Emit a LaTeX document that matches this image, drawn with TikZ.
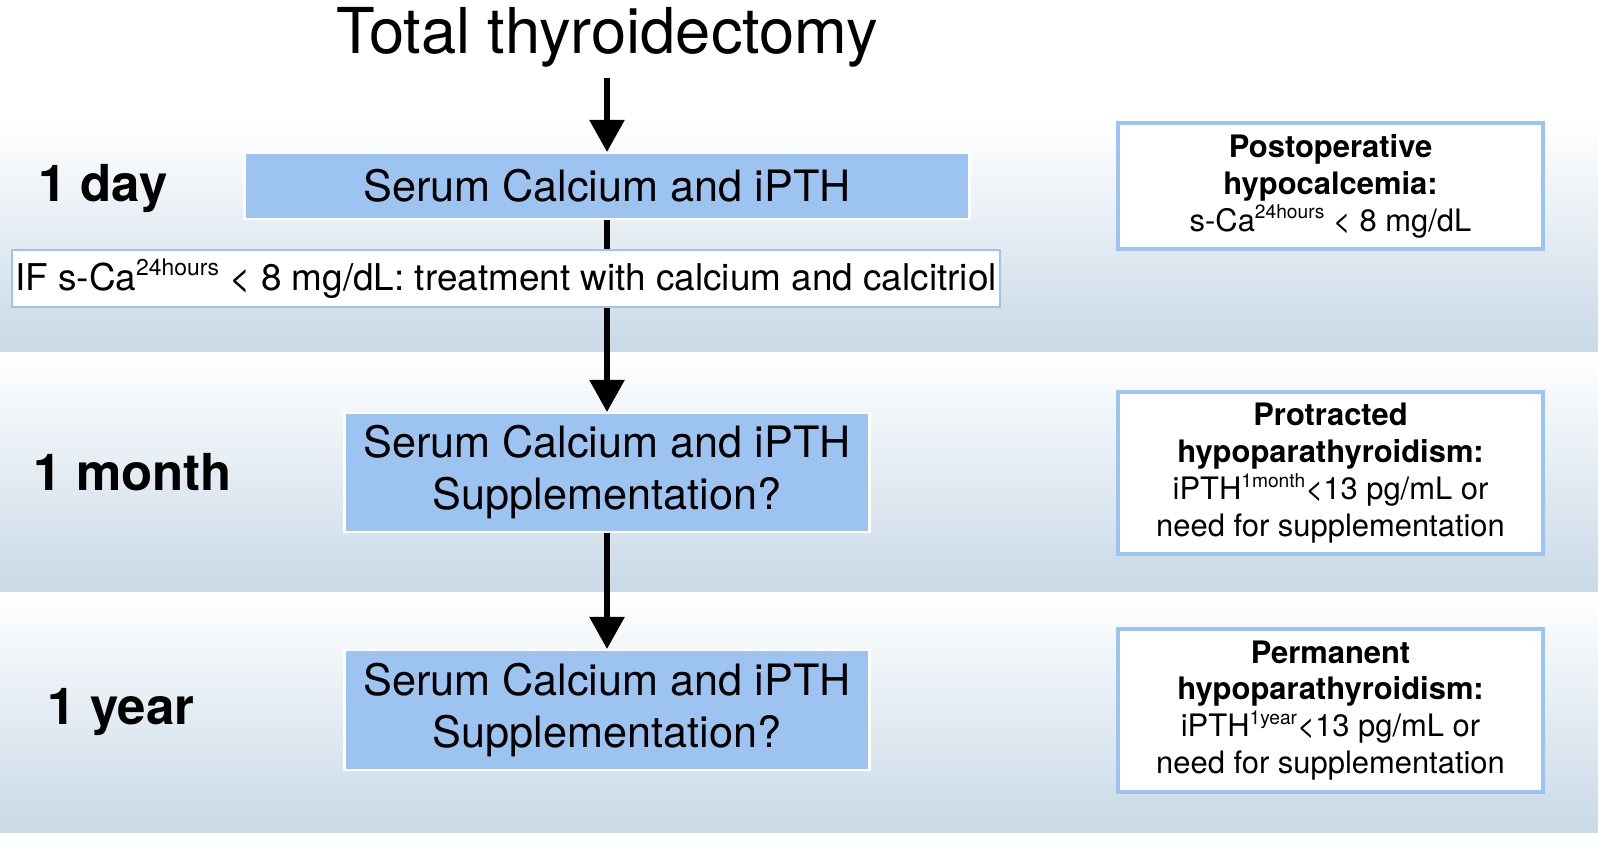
\documentclass[tikz,border=0pt]{standalone}
\usepackage{fontspec}
\setmainfont{TeX Gyre Heros}
\usetikzlibrary{positioning,arrows.meta}
\definecolor{boxblue}{HTML}{9DC3F0}
\definecolor{bandblue}{HTML}{C9D9E7}
\newcommand{\supx}[1]{\raisebox{0.75ex}{\fontsize{0.62em}{0.7em}\selectfont #1}}
\tikzset{
    band/.style={top color=white, bottom color=bandblue, draw=none},
    stepbox/.style={fill=boxblue, draw=white, line width=0.6pt, align=center, font=\fontsize{12.3pt}{14.8pt}\selectfont, inner sep=0pt},
    sidebox/.style={fill=white, draw=boxblue, line width=1.2pt, align=center, font=\fontsize{8.8pt}{10.5pt}\selectfont, minimum width=4.25cm, inner sep=0pt},
    timelabel/.style={font=\bfseries\fontsize{14.5pt}{16pt}\selectfont},
    flow/.style={-{Triangle[length=3.2mm,width=3.4mm]}, line width=1.6pt}
}
\begin{document}
\begin{tikzpicture}[x=1mm,y=-1mm]
    \useasboundingbox (0,0) rectangle (159.8,84.8);
    % background bands
    \fill[band] (0,12) rectangle (159.8,35.2);
    \fill[band] (0,35.2) rectangle (159.8,59.2);
    \fill[band] (0,59.2) rectangle (159.8,83.2);
    % main column
    \node[font=\fontsize{18pt}{20pt}\selectfont] (title) at (60.7,3.7) {Total thyroidectomy};
    \node[stepbox, minimum width=72.5mm, minimum height=6.6mm] (day) at (60.7,18.6) {Serum Calcium and iPTH};
    \node[stepbox, minimum width=52.5mm, minimum height=11.9mm] (month) at (60.7,47.25) {Serum Calcium and iPTH\\Supplementation?};
    \node[stepbox, minimum width=52.5mm, minimum height=12mm] (year) at (60.7,71) {Serum Calcium and iPTH\\Supplementation?};
    \coordinate (top) at (60.7,7.8);
    \draw[flow] (top) -- (day.north);
    \draw[flow] (day.south) -- (month.north);
    \draw[flow] (month.south) -- (year.north);
    \node[fill=white, draw=boxblue, line width=0.6pt, minimum width=98.8mm, minimum height=5.7mm, font=\fontsize{10.5pt}{12pt}\selectfont, inner sep=0pt] (treat) at (50.6,27.85)
        {IF s-Ca\supx{24hours} < 8 mg/dL: treatment with calcium and calcitriol};
    % time labels
    \node[timelabel] (t1) at (10.3,18.8) {1 day};
    \node[timelabel] (t2) at (13.3,47.2) {1 month};
    \node[timelabel] (t3) at (12.1,71.2) {1 year};
    % definitions
    \node[sidebox, minimum height=12.6mm] (def1) at (133.05,18.6) {\textbf{Postoperative}\\\textbf{hypocalcemia:}\\s-Ca\supx{24hours} < 8 mg/dL};
    \node[sidebox, minimum height=16.2mm] (def2) at (133.05,47.3) {\textbf{Protracted}\\\textbf{hypoparathyroidism:}\\iPTH\supx{1month}<13 pg/mL or\\need for supplementation};
    \node[sidebox, minimum height=16.3mm] (def3) at (133.05,71.05) {\textbf{Permanent}\\\textbf{hypoparathyroidism:}\\iPTH\supx{1year}<13 pg/mL or\\need for supplementation};
\end{tikzpicture}
\end{document}
